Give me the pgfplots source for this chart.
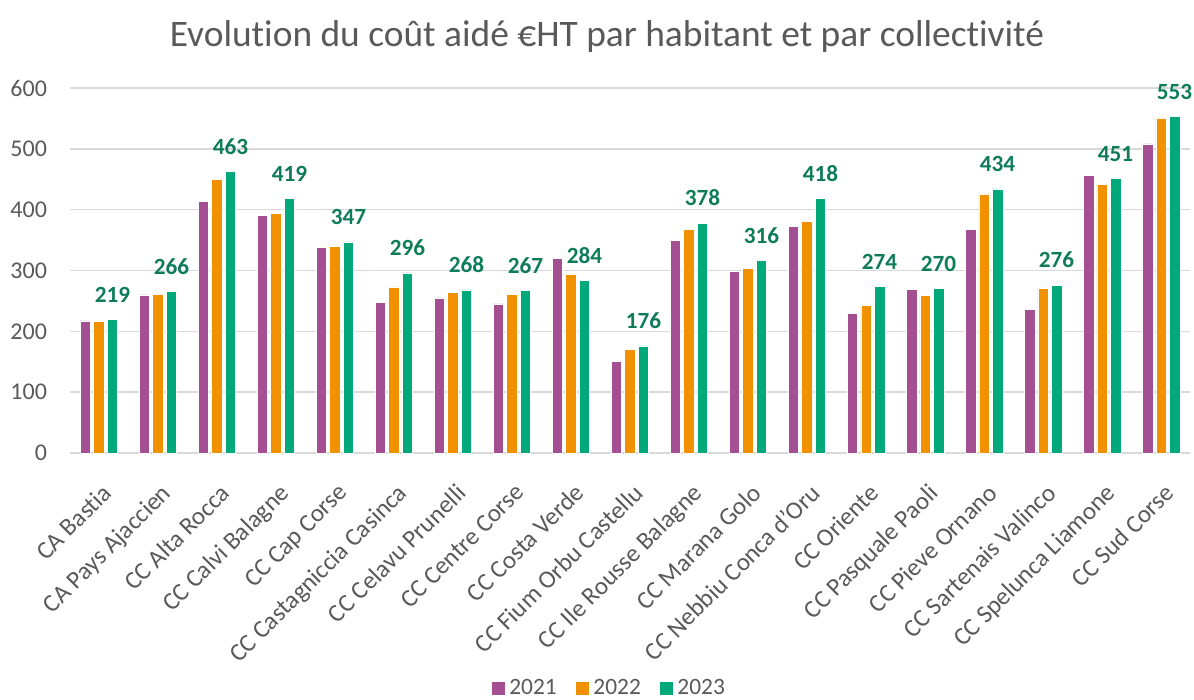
\documentclass[border=0pt]{standalone}
\usepackage{fontspec}
\setmainfont{Carlito}[Ligatures=NoCommon]
\usepackage{pgfplots}
\pgfplotsset{compat=1.18}
\definecolor{c21}{HTML}{A54F93}
\definecolor{c22}{HTML}{F29100}
\definecolor{c23}{HTML}{00A87A}
\definecolor{lab}{HTML}{0E7C59}
\definecolor{txt}{HTML}{595959}
\definecolor{grd}{HTML}{D9D9D9}
\begin{document}
\begin{tikzpicture}
\path[use as bounding box] (-35pt,-123.5pt) rectangle (562pt,226.5pt);
\begin{axis}[
  scale only axis, width=560pt, height=182.5pt,
  ybar=1.5pt, bar width=5.25pt,
  xmin=-0.49, xmax=18.49, ymin=0, ymax=600,
  ytick={0,100,...,600},
  xtick={0,...,18},
  xticklabels={CA Bastia,CA Pays Ajaccien,CC Alta Rocca,CC Calvi Balagne,CC Cap Corse,CC Castagniccia Casinca,CC Celavu Prunelli,CC Centre Corse,CC Costa Verde,CC Fium Orbu Castellu,CC Ile Rousse Balagne,CC Marana Golo,CC Nebbiu Conca d'Oru,CC Oriente,CC Pasquale Paoli,CC Pieve Ornano,CC Sartenais Valinco,CC Spelunca Liamone,CC Sud Corse},
  xticklabel style={rotate=45, anchor=north east, font=\fontsize{12.5}{14}\selectfont, text=txt, inner sep=1pt, xshift=-8.5pt, yshift=-10pt},
  yticklabel style={font=\fontsize{12}{14}\selectfont, text=txt, xshift=-8pt},
  /pgf/number format/assume math mode=true,
  major tick length=0pt,
  axis line style={draw=none},
  ymajorgrids, grid style={grd, line width=0.8pt},
  axis x line*=bottom,
  clip=false,
  legend style={at={(0.482,-0.644)}, anchor=center, draw=none, legend columns=3,
    font=\fontsize{11.7}{13}\selectfont, text=txt, /tikz/every even column/.append style={column sep=7pt}},
  legend image code/.code={\fill[#1] (0pt,-3.5pt) rectangle (7pt,3.5pt);},
]
\addplot[fill=c21, draw=white, line width=0.3pt] coordinates {(0,217) (1,260) (2,414) (3,391) (4,338) (5,248) (6,255) (7,245) (8,320) (9,151) (10,350) (11,299) (12,373) (13,230) (14,269) (15,367) (16,236) (17,456) (18,508)};
\addplot[fill=c22, draw=white, line width=0.3pt] coordinates {(0,216) (1,261) (2,450) (3,394) (4,339) (5,273) (6,264) (7,261) (8,294) (9,170) (10,368) (11,304) (12,381) (13,242) (14,259) (15,426) (16,271) (17,441) (18,551)};
\addplot[fill=c23, draw=white, line width=0.3pt, nodes near coords,
  every node near coord/.append style={font=\bfseries\fontsize{11.6}{13}\selectfont, text=lab, yshift=5pt}] coordinates {(0,219) (1,266) (2,463) (3,419) (4,347) (5,296) (6,268) (7,267) (8,284) (9,176) (10,378) (11,316) (12,418) (13,274) (14,270) (15,434) (16,276) (17,451) (18,553)};
\legend{2021,2022,2023}
\end{axis}
\node[text=txt, font=\fontsize{18.7}{22}\selectfont] at (268.5pt,208pt) {Evolution du coût aidé €HT par habitant et par collectivité};
\end{tikzpicture}
\end{document}
